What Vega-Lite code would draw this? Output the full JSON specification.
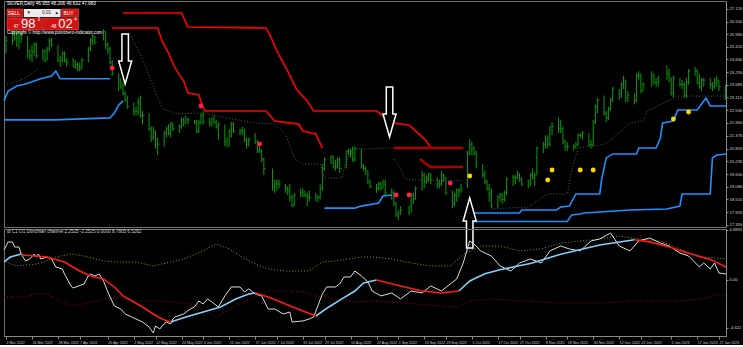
{
"$schema":"https://vega.github.io/schema/vega-lite/v6.json",
"background":"#000000",
"padding":0,
"spacing":2,
"bounds":"flush",
"config":{"view":{"stroke":"#6f6f6f","strokeWidth":1},"font":"Liberation Sans","legend":{"disable":true},"axis":{"grid":false}},
"datasets":{
"bars":[
{"d":"2022-03-04","h":25.9,"l":25.1,"c":25.7},{"d":"2022-03-07","h":26.5,"l":25.5,"c":25.7},{"d":"2022-03-08","h":26.95,"l":25.7,"c":26.2},{"d":"2022-03-09","h":26.2,"l":25.4,"c":25.8},{"d":"2022-03-10","h":26.1,"l":25.3,"c":25.9},{"d":"2022-03-11","h":26.1,"l":25.6,"c":25.9},{"d":"2022-03-14","h":25.9,"l":24.9,"c":25.2},{"d":"2022-03-15","h":25.3,"l":24.8,"c":25.0},{"d":"2022-03-16","h":25.5,"l":24.7,"c":25.2},{"d":"2022-03-17","h":25.6,"l":25.0,"c":25.5},{"d":"2022-03-18","h":25.6,"l":24.9,"c":25.0},{"d":"2022-03-21","h":25.3,"l":24.8,"c":25.2},{"d":"2022-03-22","h":25.3,"l":24.7,"c":24.8},{"d":"2022-03-23","h":25.4,"l":24.8,"c":25.3},{"d":"2022-03-24","h":25.8,"l":25.2,"c":25.7},{"d":"2022-03-25","h":25.8,"l":25.4,"c":25.5},{"d":"2022-03-28","h":25.5,"l":24.7,"c":24.8},{"d":"2022-03-29","h":25.0,"l":24.5,"c":24.8},{"d":"2022-03-30","h":25.2,"l":24.7,"c":25.1},{"d":"2022-03-31","h":25.2,"l":24.7,"c":24.8},
{"d":"2022-04-01","h":24.9,"l":24.5,"c":24.7},{"d":"2022-04-04","h":24.9,"l":24.5,"c":24.5},{"d":"2022-04-05","h":24.8,"l":24.4,"c":24.6},{"d":"2022-04-06","h":24.7,"l":24.3,"c":24.5},{"d":"2022-04-07","h":24.7,"l":24.3,"c":24.4},{"d":"2022-04-08","h":24.9,"l":24.4,"c":24.8},{"d":"2022-04-11","h":25.4,"l":24.7,"c":25.3},{"d":"2022-04-12","h":25.8,"l":25.2,"c":25.7},{"d":"2022-04-13","h":26.0,"l":25.5,"c":25.9},{"d":"2022-04-14","h":25.9,"l":25.5,"c":25.6},{"d":"2022-04-18","h":26.2,"l":25.7,"c":26.1},{"d":"2022-04-19","h":26.1,"l":25.3,"c":25.5},{"d":"2022-04-20","h":25.6,"l":25.1,"c":25.3},{"d":"2022-04-21","h":25.4,"l":24.6,"c":24.7},{"d":"2022-04-22","h":24.8,"l":24.1,"c":24.2},{"d":"2022-04-25","h":24.2,"l":23.4,"c":23.8},{"d":"2022-04-26","h":24.0,"l":23.5,"c":23.6},{"d":"2022-04-27","h":23.8,"l":23.2,"c":23.3},{"d":"2022-04-28","h":23.4,"l":22.9,"c":23.0},{"d":"2022-04-29","h":23.2,"l":22.6,"c":22.7},
{"d":"2022-05-02","h":22.9,"l":22.3,"c":22.5},{"d":"2022-05-03","h":22.7,"l":22.3,"c":22.5},{"d":"2022-05-04","h":23.1,"l":22.3,"c":22.9},{"d":"2022-05-05","h":23.2,"l":22.2,"c":22.3},{"d":"2022-05-06","h":22.5,"l":21.9,"c":22.3},{"d":"2022-05-09","h":22.4,"l":21.6,"c":21.7},{"d":"2022-05-10","h":21.8,"l":21.1,"c":21.3},{"d":"2022-05-11","h":21.8,"l":21.2,"c":21.6},{"d":"2022-05-12","h":21.6,"l":20.8,"c":21.0},{"d":"2022-05-13","h":21.3,"l":20.5,"c":21.0},{"d":"2022-05-16","h":21.6,"l":20.9,"c":21.5},{"d":"2022-05-17","h":21.8,"l":21.3,"c":21.7},{"d":"2022-05-18","h":21.9,"l":21.4,"c":21.5},{"d":"2022-05-19","h":22.0,"l":21.3,"c":21.9},{"d":"2022-05-20","h":22.0,"l":21.6,"c":21.7},{"d":"2022-05-23","h":21.9,"l":21.5,"c":21.8},{"d":"2022-05-24","h":22.2,"l":21.7,"c":22.1},{"d":"2022-05-25","h":22.2,"l":21.8,"c":22.0},{"d":"2022-05-26","h":22.3,"l":21.9,"c":22.1},{"d":"2022-05-27","h":22.2,"l":21.9,"c":22.1},{"d":"2022-05-30","h":22.1,"l":21.9,"c":22.0},{"d":"2022-05-31","h":22.1,"l":21.5,"c":21.6},
{"d":"2022-06-01","h":22.1,"l":21.5,"c":22.0},{"d":"2022-06-02","h":22.4,"l":21.9,"c":22.3},{"d":"2022-06-03","h":22.5,"l":21.9,"c":22.0},{"d":"2022-06-06","h":22.2,"l":21.8,"c":22.0},{"d":"2022-06-07","h":22.2,"l":21.8,"c":22.1},{"d":"2022-06-08","h":22.3,"l":21.9,"c":22.0},{"d":"2022-06-09","h":22.1,"l":21.7,"c":21.8},{"d":"2022-06-10","h":22.0,"l":21.2,"c":21.9},{"d":"2022-06-13","h":21.9,"l":20.9,"c":21.1},{"d":"2022-06-14","h":21.3,"l":20.9,"c":20.9},{"d":"2022-06-15","h":21.7,"l":20.9,"c":21.6},{"d":"2022-06-16","h":22.0,"l":21.3,"c":21.9},{"d":"2022-06-17","h":22.0,"l":21.5,"c":21.6},{"d":"2022-06-20","h":21.7,"l":21.4,"c":21.6},{"d":"2022-06-21","h":21.8,"l":21.4,"c":21.6},{"d":"2022-06-22","h":21.7,"l":21.1,"c":21.2},{"d":"2022-06-23","h":21.3,"l":20.8,"c":21.0},{"d":"2022-06-24","h":21.3,"l":20.9,"c":21.2},{"d":"2022-06-27","h":21.5,"l":21.0,"c":21.1},{"d":"2022-06-28","h":21.2,"l":20.6,"c":20.7},{"d":"2022-06-29","h":20.9,"l":20.6,"c":20.7},{"d":"2022-06-30","h":20.8,"l":20.2,"c":20.3},
{"d":"2022-07-01","h":20.4,"l":19.6,"c":19.9},{"d":"2022-07-05","h":19.9,"l":18.9,"c":19.1},{"d":"2022-07-06","h":19.4,"l":18.8,"c":19.2},{"d":"2022-07-07","h":19.4,"l":18.9,"c":19.2},{"d":"2022-07-08","h":19.4,"l":19.0,"c":19.2},{"d":"2022-07-11","h":19.2,"l":18.8,"c":19.0},{"d":"2022-07-12","h":19.1,"l":18.7,"c":18.9},{"d":"2022-07-13","h":19.2,"l":18.4,"c":18.6},{"d":"2022-07-14","h":18.7,"l":18.15,"c":18.2},{"d":"2022-07-15","h":18.8,"l":18.2,"c":18.7},{"d":"2022-07-18","h":19.0,"l":18.6,"c":18.8},{"d":"2022-07-19","h":19.0,"l":18.6,"c":18.7},{"d":"2022-07-20","h":18.9,"l":18.6,"c":18.7},{"d":"2022-07-21","h":18.8,"l":18.2,"c":18.6},{"d":"2022-07-22","h":18.9,"l":18.4,"c":18.6},{"d":"2022-07-25","h":18.8,"l":18.4,"c":18.6},{"d":"2022-07-26","h":18.7,"l":18.4,"c":18.6},{"d":"2022-07-27","h":19.2,"l":18.5,"c":19.0},{"d":"2022-07-28","h":20.1,"l":18.9,"c":19.9},{"d":"2022-07-29","h":20.4,"l":19.8,"c":20.3},
{"d":"2022-08-01","h":20.5,"l":20.1,"c":20.4},{"d":"2022-08-02","h":20.5,"l":19.9,"c":20.0},{"d":"2022-08-03","h":20.3,"l":19.8,"c":20.0},{"d":"2022-08-04","h":20.4,"l":19.9,"c":20.3},{"d":"2022-08-05","h":20.4,"l":19.7,"c":19.9},{"d":"2022-08-08","h":20.7,"l":19.9,"c":20.7},{"d":"2022-08-09","h":20.8,"l":20.5,"c":20.7},{"d":"2022-08-10","h":20.8,"l":20.4,"c":20.6},{"d":"2022-08-11","h":20.9,"l":20.2,"c":20.3},{"d":"2022-08-12","h":20.9,"l":20.2,"c":20.8},{"d":"2022-08-15","h":20.8,"l":19.9,"c":20.0},{"d":"2022-08-16","h":20.1,"l":19.8,"c":19.9},{"d":"2022-08-17","h":20.0,"l":19.6,"c":19.8},{"d":"2022-08-18","h":19.8,"l":19.2,"c":19.3},{"d":"2022-08-19","h":19.4,"l":19.0,"c":19.1},{"d":"2022-08-22","h":19.2,"l":18.8,"c":19.0},{"d":"2022-08-23","h":19.3,"l":18.9,"c":19.2},{"d":"2022-08-24","h":19.3,"l":18.9,"c":19.0},{"d":"2022-08-25","h":19.4,"l":19.0,"c":19.2},{"d":"2022-08-26","h":19.4,"l":18.7,"c":18.8},{"d":"2022-08-29","h":19.0,"l":18.5,"c":18.8},{"d":"2022-08-30","h":18.9,"l":18.2,"c":18.3},{"d":"2022-08-31","h":18.4,"l":17.7,"c":17.8},
{"d":"2022-09-01","h":18.0,"l":17.56,"c":17.9},{"d":"2022-09-02","h":18.2,"l":17.8,"c":18.0},{"d":"2022-09-06","h":18.2,"l":17.8,"c":18.2},{"d":"2022-09-07","h":18.8,"l":17.9,"c":18.7},{"d":"2022-09-08","h":18.8,"l":18.3,"c":18.5},{"d":"2022-09-09","h":19.1,"l":18.5,"c":19.0},{"d":"2022-09-12","h":19.8,"l":18.9,"c":19.6},{"d":"2022-09-13","h":19.7,"l":19.0,"c":19.3},{"d":"2022-09-14","h":19.6,"l":19.2,"c":19.5},{"d":"2022-09-15","h":19.7,"l":19.3,"c":19.6},{"d":"2022-09-16","h":19.7,"l":19.2,"c":19.4},{"d":"2022-09-19","h":19.5,"l":19.0,"c":19.2},{"d":"2022-09-20","h":19.4,"l":19.0,"c":19.2},{"d":"2022-09-21","h":19.8,"l":19.1,"c":19.6},{"d":"2022-09-22","h":19.7,"l":19.3,"c":19.5},{"d":"2022-09-23","h":19.5,"l":18.7,"c":18.8},{"d":"2022-09-26","h":18.9,"l":18.1,"c":18.3},{"d":"2022-09-27","h":18.8,"l":18.2,"c":18.7},{"d":"2022-09-28","h":19.0,"l":18.4,"c":18.9},{"d":"2022-09-29","h":19.0,"l":18.6,"c":18.9},{"d":"2022-09-30","h":19.2,"l":18.8,"c":19.0},
{"d":"2022-10-03","h":20.7,"l":19.0,"c":20.6},{"d":"2022-10-04","h":21.24,"l":20.5,"c":21.0},{"d":"2022-10-05","h":21.1,"l":20.5,"c":20.8},{"d":"2022-10-06","h":20.9,"l":20.5,"c":20.6},{"d":"2022-10-07","h":20.7,"l":19.9,"c":20.1},{"d":"2022-10-10","h":20.1,"l":19.5,"c":19.6},{"d":"2022-10-11","h":19.8,"l":19.2,"c":19.3},{"d":"2022-10-12","h":19.4,"l":18.9,"c":19.0},{"d":"2022-10-13","h":19.2,"l":18.4,"c":18.8},{"d":"2022-10-14","h":19.0,"l":18.1,"c":18.2},{"d":"2022-10-17","h":18.7,"l":18.1,"c":18.6},{"d":"2022-10-18","h":18.8,"l":18.4,"c":18.7},{"d":"2022-10-19","h":18.8,"l":18.3,"c":18.5},{"d":"2022-10-20","h":18.9,"l":18.4,"c":18.8},{"d":"2022-10-21","h":19.5,"l":18.7,"c":19.4},{"d":"2022-10-24","h":19.6,"l":19.1,"c":19.5},{"d":"2022-10-25","h":19.6,"l":19.2,"c":19.5},{"d":"2022-10-26","h":19.8,"l":19.4,"c":19.6},{"d":"2022-10-27","h":19.7,"l":19.3,"c":19.4},{"d":"2022-10-28","h":19.5,"l":19.1,"c":19.2},{"d":"2022-10-31","h":19.4,"l":19.0,"c":19.2},
{"d":"2022-11-01","h":19.7,"l":19.1,"c":19.6},{"d":"2022-11-02","h":19.9,"l":19.4,"c":19.5},{"d":"2022-11-03","h":19.7,"l":19.1,"c":19.6},{"d":"2022-11-04","h":20.9,"l":19.6,"c":20.8},{"d":"2022-11-07","h":21.1,"l":20.6,"c":21.0},{"d":"2022-11-08","h":21.4,"l":20.8,"c":21.2},{"d":"2022-11-09","h":21.4,"l":20.8,"c":21.0},{"d":"2022-11-10","h":21.8,"l":20.9,"c":21.8},{"d":"2022-11-11","h":22.0,"l":21.4,"c":21.8},{"d":"2022-11-14","h":22.2,"l":21.5,"c":21.7},{"d":"2022-11-15","h":22.1,"l":21.5,"c":21.7},{"d":"2022-11-16","h":21.8,"l":21.0,"c":21.1},{"d":"2022-11-17","h":21.2,"l":20.7,"c":20.9},{"d":"2022-11-18","h":21.1,"l":20.7,"c":20.9},{"d":"2022-11-21","h":21.0,"l":20.7,"c":20.9},{"d":"2022-11-22","h":21.1,"l":20.8,"c":21.0},{"d":"2022-11-23","h":21.5,"l":20.9,"c":21.4},{"d":"2022-11-24","h":21.5,"l":21.3,"c":21.4},{"d":"2022-11-25","h":21.6,"l":21.2,"c":21.5},{"d":"2022-11-28","h":21.5,"l":20.9,"c":21.0},{"d":"2022-11-29","h":21.2,"l":20.8,"c":21.0},{"d":"2022-11-30","h":22.1,"l":20.9,"c":22.0},
{"d":"2022-12-01","h":22.8,"l":21.9,"c":22.7},{"d":"2022-12-02","h":23.1,"l":22.4,"c":23.0},{"d":"2022-12-05","h":23.2,"l":22.3,"c":22.4},{"d":"2022-12-06","h":22.5,"l":22.0,"c":22.2},{"d":"2022-12-07","h":22.7,"l":22.1,"c":22.6},{"d":"2022-12-08","h":23.1,"l":22.5,"c":23.0},{"d":"2022-12-09","h":23.6,"l":22.9,"c":23.5},{"d":"2022-12-12","h":23.5,"l":23.0,"c":23.3},{"d":"2022-12-13","h":23.8,"l":23.1,"c":23.7},{"d":"2022-12-14","h":24.1,"l":23.5,"c":23.9},{"d":"2022-12-15","h":23.9,"l":22.9,"c":23.1},{"d":"2022-12-16","h":23.4,"l":22.9,"c":23.2},{"d":"2022-12-19","h":23.3,"l":22.8,"c":23.0},{"d":"2022-12-20","h":24.2,"l":22.9,"c":24.1},{"d":"2022-12-21","h":24.3,"l":23.9,"c":24.1},{"d":"2022-12-22","h":24.2,"l":23.3,"c":23.4},{"d":"2022-12-23","h":23.8,"l":23.4,"c":23.7},{"d":"2022-12-27","h":24.3,"l":23.6,"c":24.1},{"d":"2022-12-28","h":24.2,"l":23.7,"c":23.8},{"d":"2022-12-29","h":24.0,"l":23.6,"c":23.8},{"d":"2022-12-30","h":24.1,"l":23.6,"c":23.9},
{"d":"2023-01-03","h":24.55,"l":23.9,"c":24.2},{"d":"2023-01-04","h":24.4,"l":23.8,"c":24.0},{"d":"2023-01-05","h":24.0,"l":23.2,"c":23.3},{"d":"2023-01-06","h":24.1,"l":23.1,"c":24.0},{"d":"2023-01-09","h":24.0,"l":23.6,"c":23.7},{"d":"2023-01-10","h":23.9,"l":23.5,"c":23.7},{"d":"2023-01-11","h":23.8,"l":23.1,"c":23.2},{"d":"2023-01-12","h":24.0,"l":23.1,"c":23.8},{"d":"2023-01-13","h":24.4,"l":23.7,"c":24.3},{"d":"2023-01-16","h":24.5,"l":24.1,"c":24.3},{"d":"2023-01-17","h":24.4,"l":23.7,"c":23.8},{"d":"2023-01-18","h":24.2,"l":23.5,"c":23.6},{"d":"2023-01-19","h":24.0,"l":23.4,"c":23.9},{"d":"2023-01-20","h":24.0,"l":23.6,"c":23.9},{"d":"2023-01-23","h":24.0,"l":23.5,"c":23.7},{"d":"2023-01-24","h":23.8,"l":23.4,"c":23.6},{"d":"2023-01-25","h":24.0,"l":23.5,"c":23.8},{"d":"2023-01-26","h":24.1,"l":23.6,"c":23.9},{"d":"2023-01-27","h":23.9,"l":23.4,"c":23.6},{"d":"2023-01-30","h":23.7,"l":23.0,"c":23.1}
],
"lines":[
{"s":"A","d":"2022-04-27","p":26.94},{"s":"A","d":"2022-05-24","p":26.94},{"s":"A","d":"2022-05-27","p":26.30},{"s":"A","d":"2022-07-02","p":26.26},{"s":"A","d":"2022-07-04","p":25.90},{"s":"A","d":"2022-07-07","p":25.22},{"s":"A","d":"2022-07-12","p":24.31},{"s":"A","d":"2022-07-16","p":23.50},{"s":"A","d":"2022-07-21","p":22.96},{"s":"A","d":"2022-07-24","p":22.50},{"s":"A","d":"2022-08-22","p":22.50},{"s":"A","d":"2022-08-26","p":22.19},{"s":"A","d":"2022-08-29","p":21.96},{"s":"A","d":"2022-09-06","p":21.87},{"s":"A","d":"2022-09-09","p":21.60},{"s":"A","d":"2022-09-14","p":21.15},{"s":"A","d":"2022-09-16","p":20.83},{"s":"A","d":"2022-10-01","p":20.83},
{"s":"B","d":"2022-04-22","p":26.26},{"s":"B","d":"2022-05-13","p":26.26},{"s":"B","d":"2022-05-15","p":25.67},{"s":"B","d":"2022-05-18","p":25.13},{"s":"B","d":"2022-05-21","p":24.45},{"s":"B","d":"2022-05-25","p":23.86},{"s":"B","d":"2022-05-27","p":23.32},{"s":"B","d":"2022-06-01","p":23.23},{"s":"B","d":"2022-06-03","p":22.64},{"s":"B","d":"2022-06-04","p":22.50},{"s":"B","d":"2022-07-02","p":22.50},{"s":"B","d":"2022-07-06","p":22.05},{"s":"B","d":"2022-07-17","p":21.91},{"s":"B","d":"2022-07-19","p":21.60},{"s":"B","d":"2022-07-25","p":21.46},{"s":"B","d":"2022-07-28","p":20.83},
{"s":"C1","d":"2022-08-30","p":20.83},{"s":"C1","d":"2022-10-01","p":20.83},
{"s":"C2","d":"2022-09-11","p":20.33},{"s":"C2","d":"2022-09-14","p":20.10},{"s":"C2","d":"2022-09-16","p":19.97},{"s":"C2","d":"2022-10-01","p":19.97},
{"s":"U1","d":"2022-03-03T02:00:00Z","p":22.96},{"s":"U1","d":"2022-03-05","p":23.41},{"s":"U1","d":"2022-03-09","p":23.63},{"s":"U1","d":"2022-03-13","p":23.72},{"s":"U1","d":"2022-03-17","p":23.86},{"s":"U1","d":"2022-03-20","p":23.96},{"s":"U1","d":"2022-03-25","p":24.09},{"s":"U1","d":"2022-03-27","p":24.31},{"s":"U1","d":"2022-03-29","p":23.96},{"s":"U1","d":"2022-04-21","p":23.96},
{"s":"L1","d":"2022-03-03T02:00:00Z","p":22.10},{"s":"L1","d":"2022-03-26","p":22.10},{"s":"L1","d":"2022-04-21","p":22.19},{"s":"L1","d":"2022-04-23","p":22.41},{"s":"L1","d":"2022-04-25","p":22.77},{"s":"L1","d":"2022-04-27","p":22.96},
{"s":"B2","d":"2022-07-29","p":18.11},{"s":"B2","d":"2022-08-12","p":18.11},{"s":"B2","d":"2022-08-15","p":18.20},{"s":"B2","d":"2022-08-23","p":18.34},{"s":"B2","d":"2022-08-25","p":18.66},{"s":"B2","d":"2022-08-29","p":18.70},
{"s":"U3","d":"2022-10-03","p":17.89},{"s":"U3","d":"2022-10-27","p":17.89},{"s":"U3","d":"2022-10-28","p":18.02},{"s":"U3","d":"2022-11-13","p":18.02},{"s":"U3","d":"2022-11-15","p":18.16},{"s":"U3","d":"2022-11-19","p":18.20},{"s":"U3","d":"2022-11-22","p":18.75},{"s":"U3","d":"2022-12-03","p":18.75},{"s":"U3","d":"2022-12-04","p":19.47},{"s":"U3","d":"2022-12-06","p":20.38},{"s":"U3","d":"2022-12-09","p":20.56},{"s":"U3","d":"2022-12-20","p":20.56},{"s":"U3","d":"2022-12-21","p":20.83},{"s":"U3","d":"2022-12-29","p":20.83},{"s":"U3","d":"2022-12-31","p":21.28},{"s":"U3","d":"2023-01-01","p":21.96},{"s":"U3","d":"2023-01-06","p":22.05},{"s":"U3","d":"2023-01-08","p":22.55},{"s":"U3","d":"2023-01-17","p":22.55},{"s":"U3","d":"2023-01-19","p":22.82},{"s":"U3","d":"2023-01-21","p":23.09},{"s":"U3","d":"2023-01-23","p":22.73},{"s":"U3","d":"2023-01-30T07:00:00Z","p":22.73},
{"s":"L3","d":"2022-10-03","p":17.50},{"s":"L3","d":"2022-11-18","p":17.50},{"s":"L3","d":"2022-11-20","p":17.80},{"s":"L3","d":"2022-11-24","p":17.84},{"s":"L3","d":"2022-11-26","p":17.89},{"s":"L3","d":"2022-12-17","p":18.02},{"s":"L3","d":"2023-01-03","p":18.07},{"s":"L3","d":"2023-01-09","p":18.20},{"s":"L3","d":"2023-01-10","p":18.75},{"s":"L3","d":"2023-01-23","p":18.75},{"s":"L3","d":"2023-01-24","p":20.38},{"s":"L3","d":"2023-01-26","p":20.51},{"s":"L3","d":"2023-01-30T07:00:00Z","p":20.56},
{"s":"G0","d":"2022-03-03T02:00:00Z","p":23.68},{"s":"G0","d":"2022-03-12","p":23.95},{"s":"G0","d":"2022-03-19","p":24.40},
{"s":"G1","d":"2022-04-30","p":25.99},{"s":"G1","d":"2022-05-05","p":25.08},{"s":"G1","d":"2022-05-10","p":23.86},{"s":"G1","d":"2022-05-15","p":22.64},{"s":"G1","d":"2022-05-21","p":22.37},{"s":"G1","d":"2022-06-03","p":22.41},{"s":"G1","d":"2022-06-26","p":21.96},{"s":"G1","d":"2022-07-06","p":21.91},{"s":"G1","d":"2022-07-11","p":21.46},{"s":"G1","d":"2022-07-15","p":20.38},{"s":"G1","d":"2022-07-19","p":20.10},{"s":"G1","d":"2022-07-27","p":20.10},{"s":"G1","d":"2022-07-29","p":19.47},{"s":"G1","d":"2022-08-06","p":19.47},{"s":"G1","d":"2022-08-08","p":20.24},{"s":"G1","d":"2022-08-11","p":20.78},{"s":"G1","d":"2022-08-30","p":20.83},
{"s":"G2","d":"2022-08-30","p":20.33},{"s":"G2","d":"2022-09-02","p":19.92},{"s":"G2","d":"2022-09-04","p":19.43},{"s":"G2","d":"2022-09-10","p":19.38},{"s":"G2","d":"2022-10-01","p":19.34},
{"s":"G3","d":"2022-10-14","p":18.07},{"s":"G3","d":"2022-10-31","p":18.16},{"s":"G3","d":"2022-11-09","p":18.75},{"s":"G3","d":"2022-11-18","p":18.75},{"s":"G3","d":"2022-11-20","p":19.79},{"s":"G3","d":"2022-11-23","p":20.83},{"s":"G3","d":"2022-12-06","p":21.01},{"s":"G3","d":"2022-12-17","p":21.96},{"s":"G3","d":"2022-12-23","p":22.05},{"s":"G3","d":"2022-12-25","p":22.50},{"s":"G3","d":"2023-01-06","p":23.09},{"s":"G3","d":"2023-01-07","p":23.18},{"s":"G3","d":"2023-01-30T07:00:00Z","p":23.18}
],
"dots":[
{"k":"sell","d":"2022-04-22","p":24.45},{"k":"sell","d":"2022-06-02","p":22.73},{"k":"sell","d":"2022-06-29","p":21.01},{"k":"sell","d":"2022-08-31","p":18.70},{"k":"sell","d":"2022-09-06","p":18.70},{"k":"sell","d":"2022-09-25","p":19.24},
{"k":"buy","d":"2022-10-04","p":19.56},{"k":"buy","d":"2022-11-09","p":19.38},{"k":"buy","d":"2022-11-11","p":19.83},{"k":"buy","d":"2022-11-24","p":19.83},{"k":"buy","d":"2022-11-30","p":19.83},{"k":"buy","d":"2023-01-06","p":22.14},{"k":"buy","d":"2023-01-13","p":22.46}
],
"arrows":[
{"dir":"down","d":"2022-04-28","p":24.86},{"dir":"down","d":"2022-08-28","p":22.46},{"dir":"up","d":"2022-10-04","p":17.44}
],
"widget":[
{"k":"red","d":"2022-03-04T11:00:00Z","d2":"2022-03-11T19:00:00Z","p":27.12,"p2":26.76},
{"k":"white","d":"2022-03-12T06:00:00Z","d2":"2022-03-29T05:00:00Z","p":27.12,"p2":26.76},
{"k":"red","d":"2022-03-29T16:00:00Z","d2":"2022-04-06T11:00:00Z","p":27.12,"p2":26.76},
{"k":"red","d":"2022-03-04T11:00:00Z","d2":"2022-03-20T12:00:00Z","p":26.71,"p2":26.17},
{"k":"red","d":"2022-03-20T23:00:00Z","d2":"2022-04-06T11:00:00Z","p":26.71,"p2":26.17}
],
"labels":[
{"r":"hdr","d":"2022-03-04T11:00:00Z","p":27.34,"t":"SILVER,Daily  46.955 48.206 46.632 47.983"},
{"r":"hdr","d":"2022-03-04T11:00:00Z","p":26.03,"t":"Copyright © http://www.pointzero-indicator.com"},
{"r":"btn","d":"2022-03-07T16:00:00Z","p":26.94,"t":"SELL"},
{"r":"btn","d":"2022-04-01T21:00:00Z","p":26.94,"t":"BUY"},
{"r":"qty","d":"2022-03-22T19:00:00Z","p":26.94,"t":"0.01"},
{"r":"qty","d":"2022-03-14T12:00:00Z","p":26.94,"t":"▼"},
{"r":"qty","d":"2022-03-27T09:00:00Z","p":26.94,"t":"▲"},
{"r":"big","d":"2022-03-14T07:00:00Z","p":26.44,"t":"98"},
{"r":"big","d":"2022-03-31T12:00:00Z","p":26.44,"t":"02"},
{"r":"pip","d":"2022-03-08T14:00:00Z","p":26.30,"t":"47"},
{"r":"pip","d":"2022-03-26T00:00:00Z","p":26.30,"t":"48"},
{"r":"pip","d":"2022-03-19T03:00:00Z","p":26.60,"t":"3"},
{"r":"pip","d":"2022-04-05T02:00:00Z","p":26.60,"t":"4"}
],
"white":[
{"d":"2022-03-03T02:00:00Z","v":2.91},{"d":"2022-03-05","v":3.69},{"d":"2022-03-07","v":3.69},{"d":"2022-03-08","v":3.20},{"d":"2022-03-10","v":3.20},{"d":"2022-03-11","v":2.52},{"d":"2022-03-13","v":1.84},{"d":"2022-03-15","v":2.04},{"d":"2022-03-17","v":2.52},{"d":"2022-03-18","v":2.23},{"d":"2022-03-19","v":2.52},{"d":"2022-03-20","v":2.04},{"d":"2022-03-23","v":2.23},{"d":"2022-03-25","v":2.04},{"d":"2022-03-27","v":1.26},{"d":"2022-03-30","v":1.07},{"d":"2022-03-31","v":0.58},{"d":"2022-04-03","v":-0.58},{"d":"2022-04-04","v":-0.78},{"d":"2022-04-09","v":-0.39},{"d":"2022-04-11","v":0.39},{"d":"2022-04-12","v":0.58},{"d":"2022-04-14","v":0.39},{"d":"2022-04-16","v":0.58},{"d":"2022-04-18","v":-0.10},{"d":"2022-04-20","v":-1.17},{"d":"2022-04-23","v":-2.52},{"d":"2022-04-26","v":-2.82},{"d":"2022-04-28","v":-3.30},{"d":"2022-05-01","v":-3.59},{"d":"2022-05-03","v":-3.79},{"d":"2022-05-06","v":-4.08},{"d":"2022-05-09","v":-4.56},{"d":"2022-05-11","v":-5.15},{"d":"2022-05-12","v":-4.47},{"d":"2022-05-14","v":-4.76},{"d":"2022-05-15","v":-4.47},{"d":"2022-05-17","v":-4.08},{"d":"2022-05-19","v":-4.27},{"d":"2022-05-20","v":-3.79},{"d":"2022-05-21","v":-3.59},{"d":"2022-05-25","v":-3.30},{"d":"2022-05-28","v":-2.82},{"d":"2022-05-30","v":-2.62},{"d":"2022-06-01","v":-2.04},{"d":"2022-06-03","v":-2.33},{"d":"2022-06-05","v":-1.84},{"d":"2022-06-07","v":-2.14},{"d":"2022-06-10","v":-2.62},{"d":"2022-06-13","v":-1.55},{"d":"2022-06-16","v":-0.68},{"d":"2022-06-20","v":-0.68},{"d":"2022-06-22","v":-1.17},{"d":"2022-06-24","v":-0.87},{"d":"2022-06-27","v":-1.36},{"d":"2022-06-30","v":-1.55},{"d":"2022-07-03","v":-2.82},{"d":"2022-07-06","v":-2.82},{"d":"2022-07-10","v":-3.30},{"d":"2022-07-13","v":-3.11},{"d":"2022-07-14","v":-4.08},{"d":"2022-07-19","v":-3.98},{"d":"2022-07-22","v":-3.79},{"d":"2022-07-24","v":-3.59},{"d":"2022-07-28","v":-1.36},{"d":"2022-07-30","v":-0.68},{"d":"2022-08-03","v":-0.68},{"d":"2022-08-05","v":-0.39},{"d":"2022-08-07","v":0.29},{"d":"2022-08-10","v":0.29},{"d":"2022-08-12","v":0.87},{"d":"2022-08-15","v":0.39},{"d":"2022-08-18","v":-0.19},{"d":"2022-08-20","v":-1.07},{"d":"2022-08-24","v":-1.55},{"d":"2022-08-29","v":-1.26},{"d":"2022-09-02","v":-1.84},{"d":"2022-09-07","v":-1.07},{"d":"2022-09-12","v":-1.26},{"d":"2022-09-16","v":-0.58},{"d":"2022-09-21","v":-1.07},{"d":"2022-09-25","v":-0.39},{"d":"2022-09-28","v":0.10},{"d":"2022-10-01","v":1.65},{"d":"2022-10-04","v":3.79},{"d":"2022-10-07","v":3.30},{"d":"2022-10-09","v":2.82},{"d":"2022-10-14","v":2.33},{"d":"2022-10-18","v":1.36},{"d":"2022-10-23","v":0.87},{"d":"2022-10-27","v":1.65},{"d":"2022-11-01","v":2.04},{"d":"2022-11-06","v":1.65},{"d":"2022-11-10","v":2.82},{"d":"2022-11-15","v":3.30},{"d":"2022-11-19","v":3.01},{"d":"2022-11-24","v":2.82},{"d":"2022-11-29","v":3.79},{"d":"2022-12-03","v":3.98},{"d":"2022-12-08","v":4.56},{"d":"2022-12-12","v":3.30},{"d":"2022-12-17","v":2.82},{"d":"2022-12-21","v":3.79},{"d":"2022-12-26","v":4.08},{"d":"2022-12-31","v":3.59},{"d":"2023-01-04","v":3.30},{"d":"2023-01-09","v":2.62},{"d":"2023-01-13","v":2.33},{"d":"2023-01-18","v":1.26},{"d":"2023-01-20","v":1.65},{"d":"2023-01-23","v":1.07},{"d":"2023-01-25","v":1.65},{"d":"2023-01-27","v":0.68},{"d":"2023-01-30T07:00:00Z","v":0.58}
],
"curve":[
{"s":"LB1","d":"2022-03-03T02:00:00Z","v":1.75},{"s":"LB1","d":"2022-03-06","v":2.23},{"s":"LB1","d":"2022-03-11","v":2.52},
{"s":"R1","d":"2022-03-11","v":2.52},{"s":"R1","d":"2022-03-12","v":2.43},{"s":"R1","d":"2022-03-18","v":2.33},{"s":"R1","d":"2022-03-23","v":2.23},{"s":"R1","d":"2022-03-26","v":2.04},{"s":"R1","d":"2022-03-31","v":1.75},{"s":"R1","d":"2022-04-03","v":1.36},{"s":"R1","d":"2022-04-07","v":0.87},{"s":"R1","d":"2022-04-12","v":0.39},{"s":"R1","d":"2022-04-18","v":0.10},{"s":"R1","d":"2022-04-23","v":-0.68},{"s":"R1","d":"2022-04-27","v":-1.55},{"s":"R1","d":"2022-05-02","v":-2.14},{"s":"R1","d":"2022-05-06","v":-2.62},{"s":"R1","d":"2022-05-11","v":-3.30},{"s":"R1","d":"2022-05-15","v":-3.79},{"s":"R1","d":"2022-05-19","v":-4.08},
{"s":"LB2","d":"2022-05-19","v":-4.08},{"s":"LB2","d":"2022-05-26","v":-3.59},{"s":"LB2","d":"2022-06-03","v":-3.11},{"s":"LB2","d":"2022-06-11","v":-2.62},{"s":"LB2","d":"2022-06-18","v":-1.84},{"s":"LB2","d":"2022-06-24","v":-1.36},{"s":"LB2","d":"2022-06-27","v":-1.26},
{"s":"R2","d":"2022-06-27","v":-1.26},{"s":"R2","d":"2022-07-03","v":-1.65},{"s":"R2","d":"2022-07-11","v":-2.33},{"s":"R2","d":"2022-07-19","v":-3.01},{"s":"R2","d":"2022-07-25","v":-3.50},
{"s":"LB3","d":"2022-07-25","v":-3.50},{"s":"LB3","d":"2022-07-31","v":-2.62},{"s":"LB3","d":"2022-08-06","v":-1.84},{"s":"LB3","d":"2022-08-12","v":-1.07},{"s":"LB3","d":"2022-08-16","v":-0.29},{"s":"LB3","d":"2022-08-22","v":0.0},
{"s":"R3","d":"2022-08-22","v":0.0},{"s":"R3","d":"2022-09-02","v":-0.58},{"s":"R3","d":"2022-09-12","v":-1.07},{"s":"R3","d":"2022-09-21","v":-1.26},{"s":"R3","d":"2022-09-29","v":-1.07},
{"s":"LB4","d":"2022-09-29","v":-1.07},{"s":"LB4","d":"2022-10-04","v":-0.10},{"s":"LB4","d":"2022-10-11","v":0.6},{"s":"LB4","d":"2022-10-18","v":1.0},{"s":"LB4","d":"2022-10-25","v":1.3},{"s":"LB4","d":"2022-11-01","v":1.6},{"s":"LB4","d":"2022-11-15","v":2.5},{"s":"LB4","d":"2022-12-03","v":3.4},{"s":"LB4","d":"2022-12-19","v":3.9},
{"s":"R4","d":"2022-12-19","v":3.9},{"s":"R4","d":"2022-12-26","v":3.7},{"s":"R4","d":"2023-01-04","v":3.2},{"s":"R4","d":"2023-01-13","v":2.6},{"s":"R4","d":"2023-01-23","v":2.0},{"s":"R4","d":"2023-01-30T07:00:00Z","v":1.26}
],
"upper":[
{"d":"2022-03-04","v":1.75},{"d":"2022-03-09","v":1.36},{"d":"2022-03-18","v":1.55},{"d":"2022-03-25","v":2.04},{"d":"2022-03-27","v":2.23},{"d":"2022-04-03","v":2.52},{"d":"2022-04-09","v":2.33},{"d":"2022-04-18","v":1.84},{"d":"2022-04-24","v":1.75},{"d":"2022-05-03","v":1.75},{"d":"2022-05-11","v":1.36},{"d":"2022-05-19","v":1.75},{"d":"2022-05-25","v":2.04},{"d":"2022-06-03","v":2.82},{"d":"2022-06-09","v":3.50},{"d":"2022-06-15","v":3.01},{"d":"2022-06-21","v":2.23},{"d":"2022-06-27","v":1.55},{"d":"2022-07-03","v":1.07},{"d":"2022-07-11","v":0.87},{"d":"2022-07-22","v":0.87},{"d":"2022-07-28","v":1.75},{"d":"2022-08-03","v":1.84},{"d":"2022-08-09","v":2.04},{"d":"2022-08-15","v":2.23},{"d":"2022-08-20","v":2.23},{"d":"2022-08-29","v":2.04},{"d":"2022-09-07","v":1.65},{"d":"2022-09-16","v":1.36},{"d":"2022-09-25","v":1.36},{"d":"2022-10-02","v":2.62},{"d":"2022-10-09","v":3.30},{"d":"2022-10-18","v":3.30},{"d":"2022-10-27","v":2.82},{"d":"2022-11-06","v":3.01},{"d":"2022-11-15","v":3.59},{"d":"2022-11-24","v":3.79},{"d":"2022-12-03","v":3.98},{"d":"2022-12-12","v":4.27},{"d":"2022-12-21","v":3.98},{"d":"2022-12-31","v":3.79},{"d":"2023-01-09","v":3.01},{"d":"2023-01-18","v":2.23},{"d":"2023-01-25","v":2.14},{"d":"2023-01-30T07:00:00Z","v":2.04}
],
"lower":[
{"d":"2022-03-03T02:00:00Z","v":-1.65},{"d":"2022-03-09","v":-1.65},{"d":"2022-03-15","v":-1.55},{"d":"2022-03-18","v":-1.36},{"d":"2022-03-23","v":-1.36},{"d":"2022-03-27","v":-1.84},{"d":"2022-04-03","v":-2.52},{"d":"2022-04-09","v":-2.33},{"d":"2022-04-15","v":-2.04},{"d":"2022-04-24","v":-1.65},{"d":"2022-05-03","v":-2.04},{"d":"2022-05-11","v":-2.04},{"d":"2022-05-19","v":-2.14},{"d":"2022-05-28","v":-2.33},{"d":"2022-06-03","v":-2.82},{"d":"2022-06-09","v":-3.59},{"d":"2022-06-18","v":-2.52},{"d":"2022-06-27","v":-1.65},{"d":"2022-07-03","v":-1.07},{"d":"2022-07-11","v":-1.07},{"d":"2022-07-19","v":-1.17},{"d":"2022-07-26","v":-1.55},{"d":"2022-08-03","v":-1.84},{"d":"2022-08-11","v":-2.14},{"d":"2022-08-20","v":-2.04},{"d":"2022-09-02","v":-2.23},{"d":"2022-09-16","v":-2.43},{"d":"2022-09-28","v":-2.62},{"d":"2022-10-04","v":-2.04},{"d":"2022-10-14","v":-1.84},{"d":"2022-10-27","v":-2.04},{"d":"2022-11-15","v":-2.23},{"d":"2022-12-03","v":-2.23},{"d":"2022-12-21","v":-2.04},{"d":"2023-01-09","v":-2.04},{"d":"2023-01-18","v":-1.84},{"d":"2023-01-23","v":-1.65},{"d":"2023-01-27","v":-1.36},{"d":"2023-01-30T07:00:00Z","v":-1.55}
],
"zero":[
{"c":"up","d":"2022-03-03T02:00:00Z","d2":"2022-03-11"},{"c":"dn","d":"2022-03-11","d2":"2022-03-16"},{"c":"up","d":"2022-03-16","d2":"2022-03-18"},{"c":"dn","d":"2022-03-18","d2":"2022-04-11"},{"c":"up","d":"2022-04-11","d2":"2022-04-16"},{"c":"dn","d":"2022-04-16","d2":"2022-05-20"},{"c":"up","d":"2022-05-20","d2":"2022-06-09"},{"c":"dn","d":"2022-06-09","d2":"2022-06-11"},{"c":"up","d":"2022-06-11","d2":"2022-06-27"},{"c":"dn","d":"2022-06-27","d2":"2022-07-25"},{"c":"up","d":"2022-07-25","d2":"2022-08-22"},{"c":"dn","d":"2022-08-22","d2":"2022-09-29"},{"c":"up","d":"2022-09-29","d2":"2022-12-19"},{"c":"dn","d":"2022-12-19","d2":"2023-01-30T07:00:00Z"}
],
"oscLabel":[
{"d":"2022-03-04T12:00:00Z","v":4.66,"t":"di C1 O1 Donchian channel 2.2525 -2.2525 0.0000 8.7805 6.5262"}
]
},
"vconcat":[
{
"width":722,"height":226,
"encoding":{
"x":{"field":"d","type":"temporal","title":null,"scale":{"type":"utc","domain":[{"year":2022,"month":3,"date":3,"hours":2,"utc":true},{"year":2023,"month":1,"date":30,"hours":6,"minutes":30,"utc":true}]},"axis":null},
"y":{"field":"p","type":"quantitative","title":null,"scale":{"domain":[17.254,27.48],"nice":false,"zero":false},"axis":{"orient":"right","values":[27.12,26.55,25.98,25.41,24.84,24.255,23.685,23.115,22.53,21.96,21.375,20.805,20.235,19.65,19.08,18.51,17.925,17.355],"format":".3f","labelFontSize":4.2,"labelColor":"#d0d0d0","tickColor":"#8a8a8a","tickSize":2,"domainColor":"#8a8a8a","labelPadding":1,"labelOverlap":false,"labelFlush":false}}
},
"layer":[
{"data":{"name":"lines"},"transform":[{"filter":{"field":"s","oneOf":["G0","G1","G2","G3"]}}],"mark":{"type":"line","color":"#5a5a5a","strokeWidth":1,"strokeDash":[1,2]},"encoding":{"detail":{"field":"s"}}},
{"data":{"name":"bars"},"mark":{"type":"rule","color":"#0b9a0b","strokeWidth":1},"encoding":{"y":{"field":"l","type":"quantitative","title":null,"axis":{"orient":"right","values":[27.12,26.55,25.98,25.41,24.84,24.255,23.685,23.115,22.53,21.96,21.375,20.805,20.235,19.65,19.08,18.51,17.925,17.355],"format":".3f","labelFontSize":4.2,"labelColor":"#d0d0d0","tickColor":"#8a8a8a","tickSize":2,"domainColor":"#8a8a8a","labelPadding":1,"labelOverlap":false,"labelFlush":false}},"y2":{"field":"h"}}},
{"data":{"name":"bars"},"mark":{"type":"tick","orient":"horizontal","color":"#0b9a0b","size":2,"thickness":1,"xOffset":1},"encoding":{"y":{"field":"c","type":"quantitative","title":null,"axis":{"orient":"right","values":[27.12,26.55,25.98,25.41,24.84,24.255,23.685,23.115,22.53,21.96,21.375,20.805,20.235,19.65,19.08,18.51,17.925,17.355],"format":".3f","labelFontSize":4.2,"labelColor":"#d0d0d0","tickColor":"#8a8a8a","tickSize":2,"domainColor":"#8a8a8a","labelPadding":1,"labelOverlap":false,"labelFlush":false}}}},
{"data":{"name":"lines"},"transform":[{"filter":{"field":"s","oneOf":["U1","L1","B2","U3","L3"]}}],"mark":{"type":"line","color":"#1e90ff","strokeWidth":1.6},"encoding":{"detail":{"field":"s"}}},
{"data":{"name":"lines"},"transform":[{"filter":{"field":"s","oneOf":["A","B"]}}],"mark":{"type":"line","color":"#ff0000","strokeWidth":1.6},"encoding":{"detail":{"field":"s"}}},
{"data":{"name":"lines"},"transform":[{"filter":{"field":"s","oneOf":["C1","C2"]}}],"mark":{"type":"line","color":"#b00000","strokeWidth":2.4},"encoding":{"detail":{"field":"s"}}},
{"data":{"name":"dots"},"transform":[{"filter":"datum.k=='sell'"}],"mark":{"type":"circle","size":24,"opacity":1,"color":"#ff1f4b"}},
{"data":{"name":"dots"},"transform":[{"filter":"datum.k=='buy'"}],"mark":{"type":"circle","size":24,"opacity":1,"color":"#ffd700"}},
{"data":{"name":"arrows"},"mark":{"type":"point","filled":true,"fill":"#000000","stroke":"#ffffff","strokeWidth":1.5,"size":2500,"opacity":1},"encoding":{"shape":{"field":"dir","type":"nominal","scale":{"domain":["down","up"],"range":["M-0.13,-1L0.13,-1L0.13,0.08L0.26,0.08L0,1L-0.26,0.08L-0.13,0.08Z","M-0.13,1L0.13,1L0.13,-0.08L0.26,-0.08L0,-1L-0.26,-0.08L-0.13,-0.08Z"]},"legend":null}}},
{"data":{"name":"widget"},"transform":[{"filter":"datum.k=='red'"}],"mark":{"type":"rect","color":"#d11313","stroke":"#ff5a5a","strokeWidth":0.5},"encoding":{"x2":{"field":"d2"},"y2":{"field":"p2"}}},
{"data":{"name":"widget"},"transform":[{"filter":"datum.k=='white'"}],"mark":{"type":"rect","color":"#ececec"},"encoding":{"x2":{"field":"d2"},"y2":{"field":"p2"}}},
{"data":{"name":"labels"},"transform":[{"filter":"datum.r=='hdr'"}],"mark":{"type":"text","align":"left","baseline":"middle","fontSize":4.6,"color":"#ffffff"},"encoding":{"text":{"field":"t"}}},
{"data":{"name":"labels"},"transform":[{"filter":"datum.r=='btn'"}],"mark":{"type":"text","align":"center","baseline":"middle","fontSize":5,"color":"#ffffff"},"encoding":{"text":{"field":"t"}}},
{"data":{"name":"labels"},"transform":[{"filter":"datum.r=='qty'"}],"mark":{"type":"text","align":"center","baseline":"middle","fontSize":4.5,"color":"#222222"},"encoding":{"text":{"field":"t"}}},
{"data":{"name":"labels"},"transform":[{"filter":"datum.r=='big'"}],"mark":{"type":"text","align":"center","baseline":"middle","fontSize":13,"color":"#ffffff"},"encoding":{"text":{"field":"t"}}},
{"data":{"name":"labels"},"transform":[{"filter":"datum.r=='pip'"}],"mark":{"type":"text","align":"center","baseline":"middle","fontSize":4.5,"color":"#ffffff"},"encoding":{"text":{"field":"t"}}}
]
},
{
"width":722,"height":107,
"encoding":{
"x":{"field":"d","type":"temporal","title":null,"scale":{"type":"utc","domain":[{"year":2022,"month":3,"date":3,"hours":2,"utc":true},{"year":2023,"month":1,"date":30,"hours":6,"minutes":30,"utc":true}]},"axis":{"values":[{"year":2022,"month":3,"date":4,"utc":true},{"year":2022,"month":3,"date":16,"utc":true},{"year":2022,"month":3,"date":28,"utc":true},{"year":2022,"month":4,"date":7,"utc":true},{"year":2022,"month":4,"date":20,"utc":true},{"year":2022,"month":5,"date":2,"utc":true},{"year":2022,"month":5,"date":12,"utc":true},{"year":2022,"month":5,"date":24,"utc":true},{"year":2022,"month":6,"date":3,"utc":true},{"year":2022,"month":6,"date":15,"utc":true},{"year":2022,"month":6,"date":27,"utc":true},{"year":2022,"month":7,"date":7,"utc":true},{"year":2022,"month":7,"date":19,"utc":true},{"year":2022,"month":7,"date":29,"utc":true},{"year":2022,"month":8,"date":10,"utc":true},{"year":2022,"month":8,"date":22,"utc":true},{"year":2022,"month":9,"date":1,"utc":true},{"year":2022,"month":9,"date":13,"utc":true},{"year":2022,"month":9,"date":23,"utc":true},{"year":2022,"month":10,"date":5,"utc":true},{"year":2022,"month":10,"date":17,"utc":true},{"year":2022,"month":10,"date":27,"utc":true},{"year":2022,"month":11,"date":8,"utc":true},{"year":2022,"month":11,"date":18,"utc":true},{"year":2022,"month":11,"date":30,"utc":true},{"year":2022,"month":12,"date":12,"utc":true},{"year":2022,"month":12,"date":22,"utc":true},{"year":2023,"month":1,"date":5,"utc":true},{"year":2023,"month":1,"date":17,"utc":true},{"year":2023,"month":1,"date":27,"utc":true}],"format":"%-d %b %Y","labelAlign":"left","labelFontSize":3.6,"labelColor":"#c8c8c8","tickColor":"#8a8a8a","tickSize":3,"domainColor":"#8a8a8a","labelPadding":1,"labelOverlap":false,"labelFlush":false}},
"y":{"field":"v","type":"quantitative","title":null,"scale":{"domain":[-5.44,4.95],"nice":false,"zero":false},"axis":{"orient":"right","values":[4.8891,0,-4.622],"labelExpr":"datum.value == 0 ? '0.00' : (datum.value > 0 ? '4.8891' : '-4.622')","labelFontSize":4.2,"labelColor":"#d0d0d0","tickColor":"#8a8a8a","tickSize":2,"domainColor":"#8a8a8a","labelPadding":1,"labelOverlap":false,"labelFlush":false}}
},
"layer":[
{"data":{"name":"upper"},"mark":{"type":"line","color":"#9a9a00","strokeWidth":1,"strokeDash":[1,2]}},
{"data":{"name":"lower"},"mark":{"type":"line","color":"#9a0000","strokeWidth":1,"strokeDash":[1,2]}},
{"data":{"name":"zero"},"mark":{"type":"rule","strokeWidth":2},"encoding":{"x2":{"field":"d2"},"y":{"datum":0,"type":"quantitative","axis":{"orient":"right","values":[4.8891,0,-4.622],"labelExpr":"datum.value == 0 ? '0.00' : (datum.value > 0 ? '4.8891' : '-4.622')","labelFontSize":4.2,"labelColor":"#d0d0d0","tickColor":"#8a8a8a","tickSize":2,"domainColor":"#8a8a8a","labelPadding":1,"labelOverlap":false,"labelFlush":false}},"color":{"field":"c","type":"nominal","scale":{"domain":["up","dn"],"range":["#1e90ff","#f4a460"]},"legend":null}}},
{"data":{"name":"white"},"mark":{"type":"line","color":"#dcdcdc","strokeWidth":1}},
{"data":{"name":"curve"},"transform":[{"filter":{"field":"s","oneOf":["LB1","LB2","LB3","LB4"]}}],"mark":{"type":"line","color":"#87cefa","strokeWidth":1.6},"encoding":{"detail":{"field":"s"}}},
{"data":{"name":"curve"},"transform":[{"filter":{"field":"s","oneOf":["R1","R2","R3","R4"]}}],"mark":{"type":"line","color":"#ff1a1a","strokeWidth":1.6},"encoding":{"detail":{"field":"s"}}},
{"data":{"name":"oscLabel"},"mark":{"type":"text","align":"left","baseline":"middle","fontSize":4.6,"color":"#d0d0d0"},"encoding":{"text":{"field":"t"}}}
]
}
]
}
